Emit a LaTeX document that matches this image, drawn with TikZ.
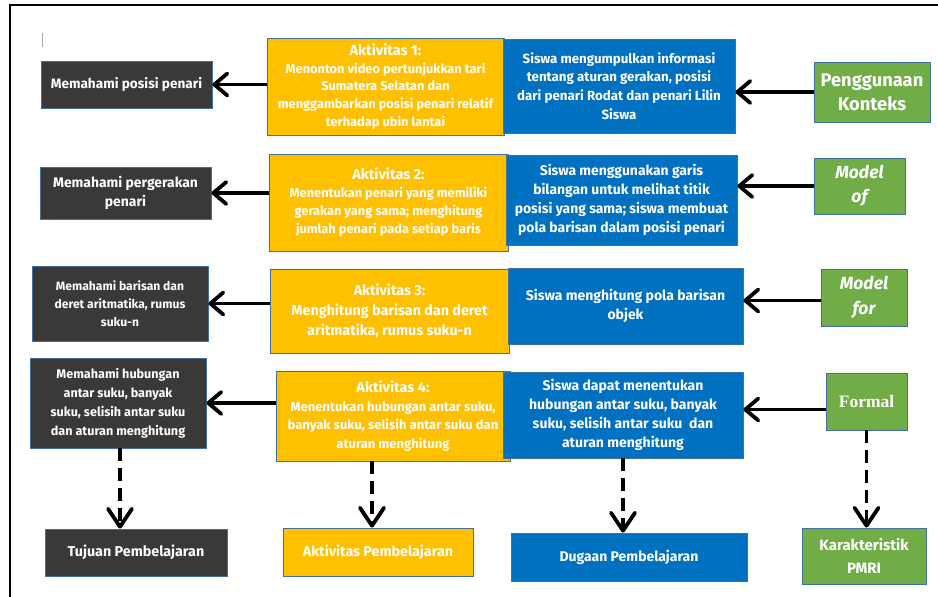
\documentclass[tikz,border=0pt]{standalone}
\usepackage{fontspec}
\setmainfont{Fira Sans}
\newfontfamily\serifb{Liberation Serif}
\usetikzlibrary{arrows.meta}
\definecolor{darkc}{HTML}{3B3838}
\definecolor{yellowc}{HTML}{FFC000}
\definecolor{bluec}{HTML}{0070C0}
\definecolor{greenc}{HTML}{70AD47}
\definecolor{bordc}{HTML}{41719C}
\tikzset{
  base/.style={draw=bordc, line width=0.8pt, text=white, align=center, inner sep=2pt, font=\bfseries},
  darkbox/.style={base, fill=darkc},
  yelbox/.style={base, fill=yellowc},
  bluebox/.style={base, fill=bluec},
  grnbox/.style={base, fill=greenc},
  arr/.style={line width=3.8pt, -{Straight Barb[length=13pt,width=22pt,round]}},
  darr/.style={line width=3.8pt, dash pattern=on 13pt off 7pt, -{Straight Barb[length=18pt,width=24pt,round]}}
}
\begin{document}
\begin{tikzpicture}[x=1pt,y=-1pt]
\useasboundingbox (0,0) rectangle (938,597);
% frame
\draw[line width=2pt] (10,597) -- (10,5) -- (938,5);
\draw[gray!70, line width=0.8pt] (42,33) -- (42,47);

% yellow activity boxes
\node[yelbox, minimum width=237, minimum height=97, font=\bfseries\fontsize{12.8}{17.6}\selectfont] (Y1) at (385.5,86.5)
  {\rule{0pt}{6pt}\\[-12pt]{\fontsize{14.5}{17.6}\selectfont Aktivitas 1:}\\Menonton video pertunjukkan tari\\Sumatera Selatan dan\\menggambarkan posisi penari relatif\\terhadap ubin lantai};
\node[yelbox, minimum width=239, minimum height=97, font=\bfseries\fontsize{12.8}{18}\selectfont] (Y2) at (388.5,202.5)
  {{\fontsize{14.5}{18}\selectfont Aktivitas 2:}\\Menentukan penari yang memiliki\\gerakan yang sama; menghitung\\jumlah penari pada setiap baris};
\node[yelbox, minimum width=239, minimum height=84, font=\bfseries\fontsize{14.3}{20}\selectfont] (Y3) at (389.5,311)
  {Aktivitas 3:\\Menghitung barisan dan deret\\aritmatika, rumus suku-n};
\node[yelbox, minimum width=234, minimum height=90, font=\bfseries\fontsize{13}{18.5}\selectfont] (Y4) at (393,416)
  {{\fontsize{14.5}{18.5}\selectfont Aktivitas 4:}\\Menentukan hubungan antar suku,\\banyak suku, selisih antar suku dan\\aturan menghitung};
\node[yelbox, minimum width=190, minimum height=48, font=\bfseries\fontsize{14.3}{16}\selectfont] (Y5) at (378,552) {Aktivitas Pembelajaran};

% blue boxes
\node[bluebox, minimum width=232, minimum height=94, font=\bfseries\fontsize{13.3}{18.8}\selectfont] (B1) at (619,86)
  {Siswa mengumpulkan informasi\\tentang aturan gerakan, posisi\\dari penari Rodat dan penari Lilin\\Siswa};
\node[bluebox, minimum width=231, minimum height=90, font=\bfseries\fontsize{13.9}{19}\selectfont] (B2) at (621.5,200)
  {Siswa menggunakan garis\\bilangan untuk melihat titik\\posisi yang sama; siswa membuat\\pola barisan dalam posisi penari};
\node[bluebox, minimum width=235, minimum height=76, font=\bfseries\fontsize{14}{18.5}\selectfont] (B3) at (625.5,306)
  {Siswa menghitung pola barisan\\objek};
\node[bluebox, minimum width=240, minimum height=86, font=\bfseries\fontsize{14}{19}\selectfont] (B4) at (623,415)
  {Siswa dapat menentukan\\hubungan antar suku, banyak\\suku, selisih antar suku~~dan\\aturan menghitung};
\node[bluebox, minimum width=236, minimum height=48, font=\bfseries\fontsize{14}{16}\selectfont] (B5) at (629,557) {Dugaan Pembelajaran};

% dark boxes
\node[darkbox, minimum width=171, minimum height=47, font=\bfseries\fontsize{13.6}{19}\selectfont] (D1) at (126.5,84.5) {Memahami posisi penari};
\node[darkbox, minimum width=171, minimum height=52, font=\bfseries\fontsize{13.9}{19}\selectfont] (D2) at (125.5,193) {Memahami pergerakan\\penari};
\node[darkbox, minimum width=176, minimum height=75, font=\bfseries\fontsize{12.1}{18}\selectfont] (D3) at (120,303.5) {Memahami barisan dan\\deret aritmatika, rumus\\suku-n};
\node[darkbox, minimum width=176, minimum height=90, font=\bfseries\fontsize{12.6}{19}\selectfont] (D4) at (118,403) {Memahami hubungan\\antar suku, banyak\\suku, selisih antar suku\\dan aturan menghitung};
\node[darkbox, minimum width=182, minimum height=47, font=\bfseries\fontsize{14.3}{16}\selectfont] (D5) at (136,552.5) {Tujuan Pembelajaran};

% green boxes
\node[grnbox, minimum width=116, minimum height=60, font=\bfseries\fontsize{18.3}{24}\selectfont] (G1) at (872,92) {Penggunaan\\Konteks};
\node[grnbox, minimum width=91, minimum height=56, font=\bfseries\itshape\fontsize{17.5}{24}\selectfont] (G2) at (859.5,186) {Model\\of};
\node[grnbox, minimum width=86, minimum height=57, font=\bfseries\itshape\fontsize{17.5}{25}\selectfont] (G3) at (864,297.5) {Model\\for};
\node[grnbox, minimum width=81, minimum height=57, font=\serifb\bfseries\fontsize{17.5}{18}\selectfont] (G4) at (866.5,401.5) {Formal};
\node[grnbox, minimum width=124, minimum height=56, font=\bfseries\fontsize{15}{23}\selectfont] (G5) at (864,556) {Karakteristik\\PMRI};

% horizontal arrows
\draw[arr] (Y1.west |- D1.east) -- (D1.east);
\draw[arr] (Y2.west |- D2.east) -- (D2.east);
\draw[arr] (Y3.west |- D3.east) -- (D3.east);
\draw[arr] (Y4.west |- D4.east) -- (D4.east);
\draw[arr] (G1.west) -- (G1.west -| B1.east);
\draw[arr] (G2.west) -- (G2.west -| B2.east);
\draw[arr] ([yshift=-3pt]G3.west) -- ([yshift=-3pt]G3.west -| B3.east);
\draw[arr] ([yshift=-8pt]G4.west) -- ([yshift=-8pt]G4.west -| B4.east);

% dashed vertical arrows
\draw[darr] ([xshift=2pt]D4.south) -- ([xshift=2pt]D4.south |- D5.north);
\draw[darr] ([xshift=-6pt]Y5.north |- Y4.south) -- ([xshift=-6pt]Y5.north);
\draw[darr] (B4.south) -- (B4.south |- B5.north);
\draw[darr] (G4.south) -- (G4.south |- G5.north);
\end{tikzpicture}
\end{document}
